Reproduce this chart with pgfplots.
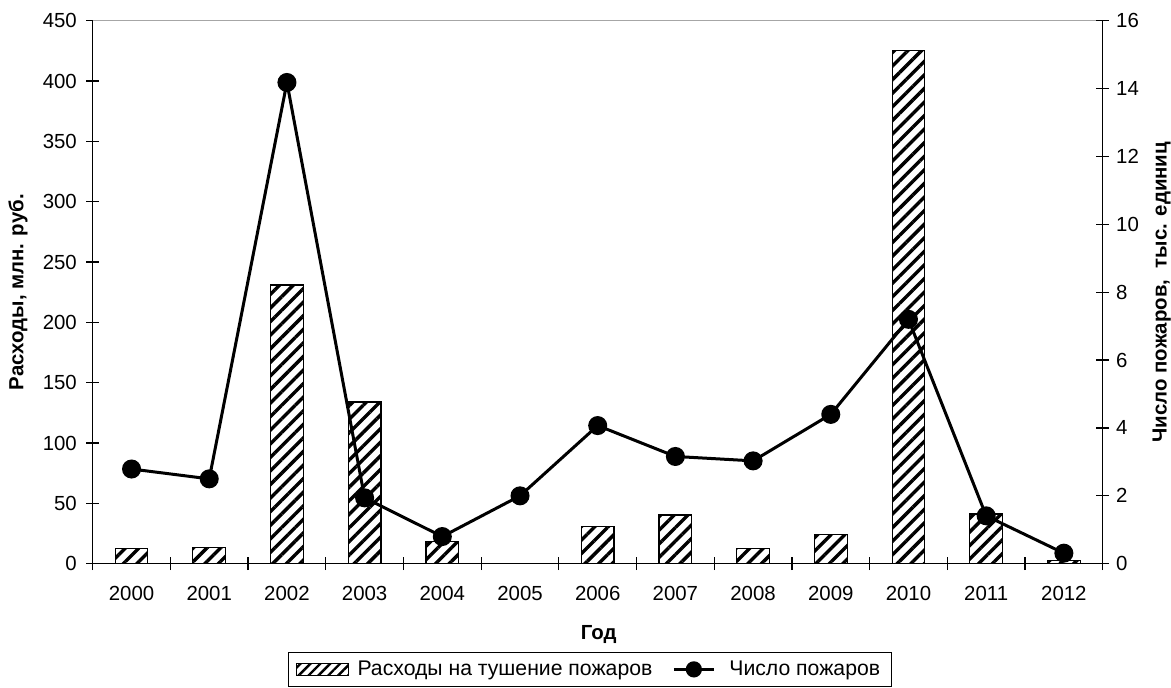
\documentclass[border=0pt]{standalone}
\usepackage{fontspec}
\setmainfont{Liberation Sans}
\usepackage{pgfplots}
\pgfplotsset{compat=1.18}
\usetikzlibrary{patterns.meta}
\begin{document}
\begin{tikzpicture}
\pgfplotsset{
  every axis/.append style={font=\fontsize{10.2}{12}\selectfont},
  /pgf/number format/assume math mode=true,
  common/.style={at={(0,0)}, anchor=south west, scale only axis,
    width=505pt, height=271.5pt, xmin=-0.5, xmax=12.5,
    tick align=center, major tick length=6.4pt,
    tick style={black, line width=0.6pt},
    axis line style={black, line width=0.6pt, -},
  },
}
\begin{axis}[common,
  ymin=0, ymax=450,
  axis x line*=bottom, axis y line*=left,
  xtick={-0.5,0.5,...,12.5}, x tick label as interval,
  xticklabels={2000,2001,2002,2003,2004,2005,2006,2007,2008,2009,2010,2011,2012},
  xticklabel style={yshift=-4.5pt},
  yticklabel style={xshift=-1.2pt},
  ytick={0,50,...,450},
  ylabel={\bfseries Расходы, млн. руб.},
  ylabel style={at={(axis description cs:-0.0739,0.5)}, anchor=center},
  xlabel={\bfseries Год},
  xlabel style={at={(axis description cs:0.501,-0.1310)}, anchor=center},
  legend style={at={(axis description cs:0.492,-0.1626)}, anchor=north,
    draw=black, line width=0.6pt, inner xsep=3.5pt, inner ysep=2pt,
    legend columns=2, /tikz/every even column/.append style={column sep=8pt},
    font=\fontsize{10.6}{12.5}\selectfont},
]
\addplot[ybar, bar width=16.35pt, draw=black, line width=0.6pt,
  pattern={Lines[angle=45,distance=4.8pt,line width=1.7pt]}, pattern color=black,
  legend image code/.code={\draw[draw=black, line width=0.6pt,
    pattern={Lines[angle=45,distance=3.5pt,line width=1.2pt]}, pattern color=black]
    (0pt,-3pt) rectangle (26pt,3pt);}]
coordinates {(0,12.4) (1,13.5) (2,231) (3,134) (4,18.5) (6,30.7) (7,40.3) (8,12.4) (9,24) (10,425) (11,41.2) (12,2.5)};
\addlegendentry{\hspace{2pt}Расходы на тушение пожаров}
\addlegendimage{black, line width=1.5pt,
  legend image code/.code={\draw[black, line width=1.5pt] (0pt,0pt) -- (20pt,0pt);
    \fill[black] (10pt,0pt) circle (3.3pt);}}
\addlegendentry{\hspace{5pt}Число пожаров}
\draw[gray!70, line width=0.5pt] (rel axis cs:0,1) -- (rel axis cs:1,1);
\end{axis}
\begin{axis}[common,
  ymin=0, ymax=16,
  axis y line*=right, axis x line=none,
  ytick={0,2,...,16},
  ylabel={\bfseries Число пожаров,\ \ тыс. единиц},
  ylabel style={at={(axis description cs:1.0585,0.5)}, anchor=center},
]
\addplot[black, line width=1.5pt, mark=*, mark size=4pt]
coordinates {(0,2.79) (1,2.50) (2,14.18) (3,1.94) (4,0.80) (5,2.0) (6,4.07) (7,3.16) (8,3.03) (9,4.40) (10,7.2) (11,1.41) (12,0.31)};
\end{axis}
\pgfresetboundingbox
\path[use as bounding box] (-46.35pt,-61.65pt) rectangle (539.15pt,281.85pt);
\end{tikzpicture}
\end{document}
